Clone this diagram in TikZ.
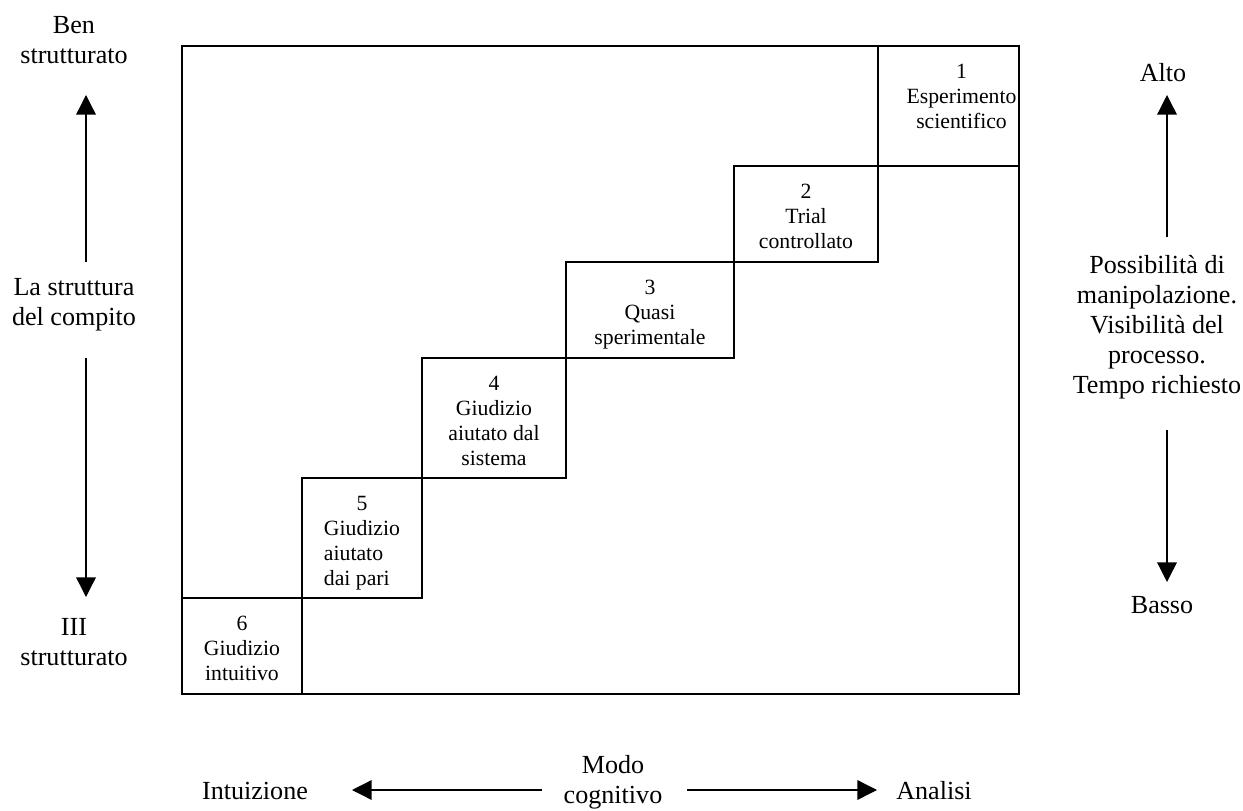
\documentclass[tikz,border=0pt]{standalone}
\usepackage{fontspec}
\setmainfont{Liberation Serif}
\usetikzlibrary{positioning, arrows.meta}

\tikzset{
  stepbox/.style={draw, line width=0.8pt, outer sep=0pt, inner sep=0pt, anchor=south west},
  boxlabel/.style={align=center, inner sep=0pt, font=\fontsize{10}{11.5}\selectfont},
  sidelabel/.style={align=center, inner sep=0pt, font=\fontsize{12}{13.8}\selectfont},
  dirarrow/.style={line width=0.6pt, -{Triangle[width=9pt,length=9pt]}}
}

\begin{document}
\begin{tikzpicture}[x=0.46pt, y=-0.46pt]
      \useasboundingbox (0,0) rectangle (1243,811);
      % outer frame
      \node[stepbox, anchor=north west, minimum width=837*0.46pt, minimum height=648*0.46pt] (frame) at (182,46) {};
      % staircase
      \node[stepbox, minimum width=120*0.46pt, minimum height=96*0.46pt] (b6) at (182,694) {};
      \node[stepbox, minimum width=120*0.46pt, minimum height=120*0.46pt] (b5) at (b6.north east) {};
      \node[stepbox, minimum width=144*0.46pt, minimum height=120*0.46pt] (b4) at (b5.north east) {};
      \node[stepbox, minimum width=168*0.46pt, minimum height=96*0.46pt] (b3) at (b4.north east) {};
      \node[stepbox, minimum width=144*0.46pt, minimum height=96*0.46pt] (b2) at (b3.north east) {};
      \node[stepbox, minimum width=141*0.46pt, minimum height=120*0.46pt] (b1) at (b2.north east) {};
      \node[boxlabel, below=8pt of b1.north, xshift=6pt] (t1) {1\\Esperimento\\scientifico};
      \node[boxlabel, below=8pt of b2.north] (t2) {2\\Trial\\controllato};
      \node[boxlabel, below=8pt of b3.north] (t3) {3\\Quasi\\sperimentale};
      \node[boxlabel, below=8pt of b4.north] (t4) {4\\Giudizio\\aiutato dal\\sistema};
      \node[boxlabel, below=6.5pt of b5.north] (t5) {\begin{tabular}{@{}l@{}}\multicolumn{1}{@{}c@{}}{5}\\Giudizio\\aiutato\\dai pari\end{tabular}};
      \node[boxlabel, below=8pt of b6.north] (t6) {6\\Giudizio\\intuitivo};
      % side labels
      \node[sidelabel] (ben) at (74,40) {Ben\\strutturato};
      \node[sidelabel] (struct) at (74,305) {La struttura\\del compito};
      \node[sidelabel] (ill) at (74,642) {III\\strutturato};
      \node[sidelabel] (alto) at (1163,73) {Alto};
      \node[sidelabel] (manip) at (1157,327) {Possibilità di\\manipolazione.\\Visibilità del\\processo.\\Tempo richiesto};
      \node[sidelabel] (basso) at (1162,605) {Basso};
      \node[sidelabel] (intu) at (255,791) {Intuizione};
      \node[sidelabel] (modo) at (613,782) {Modo\\cognitivo};
      \node[sidelabel] (anal) at (934,791) {Analisi};
      % arrows
      \coordinate (lu0) at (86,262);  \coordinate (lu1) at (86,95);
      \coordinate (ld0) at (86,358);  \coordinate (ld1) at (86,597);
      \coordinate (ru0) at (1167,237); \coordinate (ru1) at (1167,95);
      \coordinate (rd0) at (1167,430); \coordinate (rd1) at (1167,582);
      \coordinate (bl0) at (542,790); \coordinate (bl1) at (352,790);
      \coordinate (br0) at (687,790); \coordinate (br1) at (877,790);
      \draw[dirarrow] (lu0) -- (lu1);
      \draw[dirarrow] (ld0) -- (ld1);
      \draw[dirarrow] (ru0) -- (ru1);
      \draw[dirarrow] (rd0) -- (rd1);
      \draw[dirarrow] (bl0) -- (bl1);
      \draw[dirarrow] (br0) -- (br1);
    \end{tikzpicture}
\end{document}
